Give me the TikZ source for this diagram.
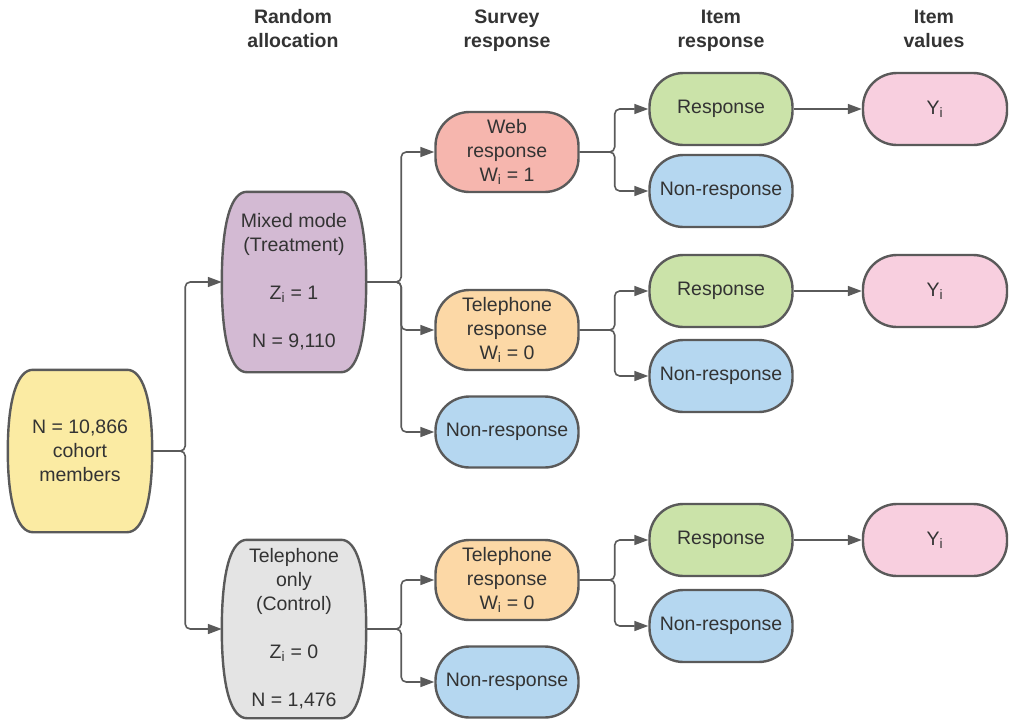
\documentclass[tikz,border=0pt]{standalone}
\usepackage{fontspec}
\setmainfont{Liberation Sans}
\usetikzlibrary{arrows.meta,calc,backgrounds}
\definecolor{txtc}{HTML}{333333}
\definecolor{edgec}{HTML}{5A5A5A}
\definecolor{cohortc}{HTML}{FBEBA3}
\definecolor{mixedc}{HTML}{D3BAD3}
\definecolor{phonec}{HTML}{E4E4E4}
\definecolor{webc}{HTML}{F6B6AE}
\definecolor{telc}{HTML}{FCD8A6}
\definecolor{nonc}{HTML}{B5D7F0}
\definecolor{respc}{HTML}{CBE3A9}
\definecolor{valc}{HTML}{F8CFDF}
\newcommand{\barrel}[2]{%
  \draw[draw=edgec,line width=2.4pt,fill=#2]
    ($(#1.north west)+(25,0)$) -- ($(#1.north east)+(-25,0)$)
    .. controls ($(#1.north east)+(-10,0)$) and ($(#1.north east)+(0,28)$) .. (#1.east)
    .. controls ($(#1.south east)+(0,-28)$) and ($(#1.south east)+(-10,0)$) .. ($(#1.south east)+(-25,0)$)
    -- ($(#1.south west)+(25,0)$)
    .. controls ($(#1.south west)+(10,0)$) and ($(#1.south west)+(0,-28)$) .. (#1.west)
    .. controls ($(#1.north west)+(0,28)$) and ($(#1.north west)+(10,0)$) .. cycle;}
\begin{document}
\begin{tikzpicture}[x=1pt,y=-1pt,
  every node/.style={font=\fontsize{19.5}{24}\selectfont,text=txtc,align=center},
  head/.style={font=\fontsize{19.5}{24}\selectfont\bfseries,text depth=5pt},
  big/.style={minimum width=144pt,inner sep=0pt},
  pill/.style={draw=edgec,line width=2.4pt,rounded corners=34pt,minimum width=143pt,minimum height=72pt,inner sep=0pt},
  link/.style={draw=edgec,line width=1.6pt,rounded corners=5pt,-{Triangle[length=14pt,width=10pt]}}]
\useasboundingbox (0,0) rectangle (1009,723);
\node[head] (hdalloc) at (293,31) {Random\\allocation};
\node[head] (hdsurvey) at (507,31) {Survey\\response};
\node[head] (hditem) at (721,31) {Item\\response};
\node[head] (hdvalue) at (934,31) {Item\\values};
\node[big,minimum height=162pt] (cohort) at (80,451) {N = 10,866\\cohort\\members};
\node[big,minimum height=180pt] (mixed) at (294,282) {Mixed mode\\(Treatment)\\[24pt]Z\textsubscript{i} = 1\\[24pt]N = 9,110};
\node[big,minimum height=178pt] (phone) at (294,629) {Telephone\\only\\(Control)\\[24pt]Z\textsubscript{i} = 0\\[24pt]N = 1,476};
\begin{scope}[on background layer]
\barrel{cohort}{cohortc}
\barrel{mixed}{mixedc}
\barrel{phone}{phonec}
\end{scope}
\node[pill,fill=webc,minimum height=80pt] (web) at (507,152) {Web\\response\\W\textsubscript{i} = 1};
\node[pill,fill=telc,minimum height=80pt] (tel1) at (507,330) {Telephone\\response\\W\textsubscript{i} = 0};
\node[pill,fill=nonc,minimum height=71pt] (non1) at (507,432) {Non-response};
\node[pill,fill=telc,minimum height=80pt] (tel2) at (507,580) {Telephone\\response\\W\textsubscript{i} = 0};
\node[pill,fill=nonc,minimum height=71pt] (non2) at (507,682) {Non-response};
\node[pill,fill=respc] (resp1) at (721,109) {Response};
\node[pill,fill=nonc] (nonr1) at (721,191) {Non-response};
\node[pill,fill=respc] (resp2) at (721,291) {Response};
\node[pill,fill=nonc] (nonr2) at (721,376) {Non-response};
\node[pill,fill=respc] (resp3) at (721,540) {Response};
\node[pill,fill=nonc] (nonr3) at (721,626) {Non-response};
\node[pill,fill=valc,minimum width=144pt] (val1) at (935,109) {Y\textsubscript{i}};
\node[pill,fill=valc,minimum width=144pt] (val2) at (935,291) {Y\textsubscript{i}};
\node[pill,fill=valc,minimum width=144pt] (val3) at (935,540) {Y\textsubscript{i}};
\draw[link] (cohort.east) -- ++(33,0) |- (mixed.west);
\draw[link] (cohort.east) -- ++(33,0) |- (phone.west);
\draw[link] (mixed.east) -- ++(35,0) |- (web.west);
\draw[link] (mixed.east) -- ++(35,0) |- (tel1.west);
\draw[link] (mixed.east) -- ++(35,0) |- (non1.west);
\draw[link] (phone.east) -- ++(35,0) |- (tel2.west);
\draw[link] (phone.east) -- ++(35,0) |- (non2.west);
\draw[link] (web.east) -- ++(35,0) |- (resp1.west);
\draw[link] (web.east) -- ++(35,0) |- (nonr1.west);
\draw[link] (tel1.east) -- ++(35,0) |- (resp2.west);
\draw[link] (tel1.east) -- ++(35,0) |- (nonr2.west);
\draw[link] (tel2.east) -- ++(35,0) |- (resp3.west);
\draw[link] (tel2.east) -- ++(35,0) |- (nonr3.west);
\draw[link] (resp1) -- (val1);
\draw[link] (resp2) -- (val2);
\draw[link] (resp3) -- (val3);
\end{tikzpicture}
\end{document}
